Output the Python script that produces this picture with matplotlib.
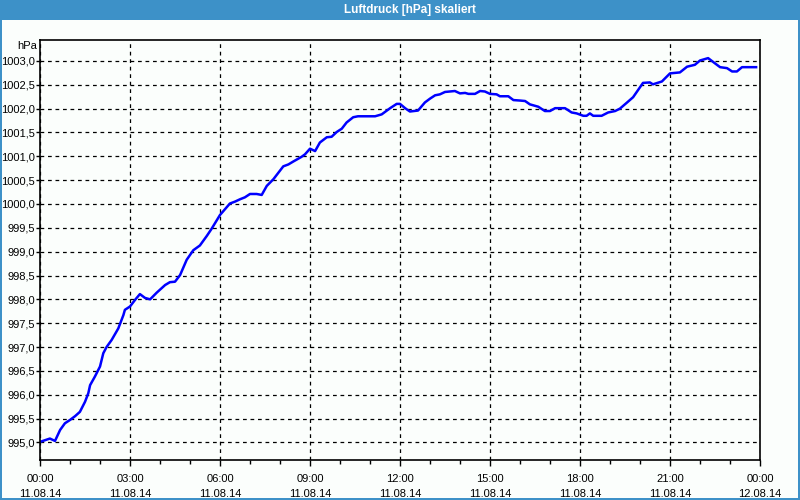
import matplotlib
matplotlib.use("Agg")
import matplotlib.pyplot as plt
from matplotlib.patches import Rectangle
from matplotlib.ticker import MultipleLocator, FuncFormatter

# hours since 11.08.14 00:00
hours = [0.00, 0.33, 0.50, 0.67, 0.83, 1.00, 1.17, 1.33, 1.50, 1.61, 1.67, 1.83,
         2.00, 2.11, 2.22, 2.39, 2.61, 2.78, 2.83, 3.00, 3.17, 3.33, 3.50, 3.67,
         3.89, 4.17, 4.33, 4.50, 4.67, 4.89, 5.11, 5.33, 5.56, 5.72, 6.00, 6.33,
         6.50, 6.67, 6.83, 7.00, 7.22, 7.39, 7.56, 7.78, 8.11, 8.28, 8.44, 8.72,
         8.83, 9.00, 9.17, 9.33, 9.56, 9.72, 9.89, 10.06, 10.22, 10.44, 10.60,
         11.17, 11.39, 11.67, 11.89, 12.00, 12.17, 12.33, 12.60, 12.83, 13.00,
         13.17, 13.33, 13.50, 13.83, 14.00, 14.17, 14.28, 14.50, 14.67, 14.83,
         15.00, 15.22, 15.33, 15.61, 15.78, 16.00, 16.17, 16.33, 16.61, 16.83,
         17.00, 17.17, 17.50, 17.72, 17.89, 18.11, 18.22, 18.33, 18.44, 18.72,
         18.94, 19.17, 19.33, 19.57, 19.77, 20.10, 20.33, 20.43, 20.73, 21.00,
         21.33, 21.57, 21.83, 22.00, 22.27, 22.50, 22.67, 22.90, 23.07, 23.23,
         23.40, 23.87]
pressure = [995.01, 995.08, 995.03, 995.26, 995.40, 995.47, 995.55, 995.64, 995.85,
            996.03, 996.20, 996.38, 996.59, 996.87, 997.00, 997.15, 997.39, 997.67,
            997.78, 997.85, 997.99, 998.11, 998.03, 998.00, 998.14, 998.30, 998.36,
            998.37, 998.51, 998.83, 999.03, 999.13, 999.33, 999.48, 999.77, 1000.01,
            1000.05, 1000.10, 1000.14, 1000.21, 1000.21, 1000.19, 1000.38, 1000.52,
            1000.79, 1000.83, 1000.89, 1000.99, 1001.04, 1001.16, 1001.11, 1001.29,
            1001.40, 1001.41, 1001.51, 1001.58, 1001.71, 1001.82, 1001.84, 1001.84,
            1001.88, 1002.01, 1002.10, 1002.10, 1002.01, 1001.94, 1001.96, 1002.13,
            1002.21, 1002.28, 1002.30, 1002.35, 1002.37, 1002.32, 1002.33, 1002.31,
            1002.31, 1002.37, 1002.36, 1002.31, 1002.30, 1002.26, 1002.26, 1002.18,
            1002.17, 1002.16, 1002.09, 1002.04, 1001.95, 1001.95, 1002.01, 1002.01,
            1001.92, 1001.90, 1001.85, 1001.85, 1001.90, 1001.85, 1001.85, 1001.92,
            1001.95, 1002.00, 1002.13, 1002.24, 1002.54, 1002.55, 1002.51, 1002.57,
            1002.74, 1002.76, 1002.88, 1002.92, 1003.01, 1003.06, 1002.95, 1002.87,
            1002.85, 1002.78, 1002.78, 1002.87, 1002.87]

tick_hours = [0, 3, 6, 9, 12, 15, 18, 21, 24]
tick_labels = ["00:00\n11.08.14", "03:00\n11.08.14", "06:00\n11.08.14",
               "09:00\n11.08.14", "12:00\n11.08.14", "15:00\n11.08.14",
               "18:00\n11.08.14", "21:00\n11.08.14", "00:00\n12.08.14"]

title = "Luftdruck [hPa] skaliert"
unit = "hPa"

bg = "#fbfefc"
bar = "#3d91c8"
plt.rcParams["font.family"] = ["Liberation Sans", "DejaVu Sans"]

fig = plt.figure(figsize=(8, 5), dpi=100, facecolor=bg)
ax = fig.add_axes([40 / 800, 1 - 460 / 500, 720 / 800, 420 / 500])
ax.set_facecolor(bg)

ax.plot(hours, pressure, color="#0000ff", lw=1.8, solid_joinstyle="round")

ax.set_xlim(0, 24)
ax.set_ylim(994.63, 1003.44)
ax.set_xticks(tick_hours)
ax.set_xticklabels(tick_labels, fontsize=8, linespacing=1.6)
ax.xaxis.set_minor_locator(MultipleLocator(1))
ax.yaxis.set_major_locator(MultipleLocator(0.5))
ax.yaxis.set_major_formatter(FuncFormatter(lambda v, p: f"{v:.1f}".replace(".", ",")))
ax.tick_params(axis="y", labelsize=8, length=3, width=1, pad=0.5, direction="out")
ax.tick_params(axis="x", which="major", length=4, width=1, pad=6, direction="out")
ax.tick_params(axis="x", which="minor", length=3, width=1, direction="out")
ax.grid(True, which="major", color="black", linestyle=(0, (3, 3)), linewidth=0.9)
for s in ax.spines.values():
    s.set_color("black")
    s.set_linewidth(1.2)

fig.text(37 / 800, 1 - 46 / 500, unit, ha="right", va="center", fontsize=8)

# title bar and border
fig.patches.append(Rectangle((0, 1 - 20 / 500), 1, 20 / 500, transform=fig.transFigure,
                             facecolor=bar, edgecolor="none", zorder=0))
fig.patches.append(Rectangle((0, 0), 2 / 800, 1, transform=fig.transFigure,
                             facecolor=bar, edgecolor="none", zorder=0))
fig.patches.append(Rectangle((1 - 2 / 800, 0), 2 / 800, 1, transform=fig.transFigure,
                             facecolor=bar, edgecolor="none", zorder=0))
fig.patches.append(Rectangle((0, 0), 1, 2 / 500, transform=fig.transFigure,
                             facecolor=bar, edgecolor="none", zorder=0))
fig.text(410 / 800, 1 - 10 / 500, title, ha="center", va="center", fontsize=8.5,
         color="white", fontweight="bold")

fig.savefig("out.png", dpi=100, facecolor=bg)
